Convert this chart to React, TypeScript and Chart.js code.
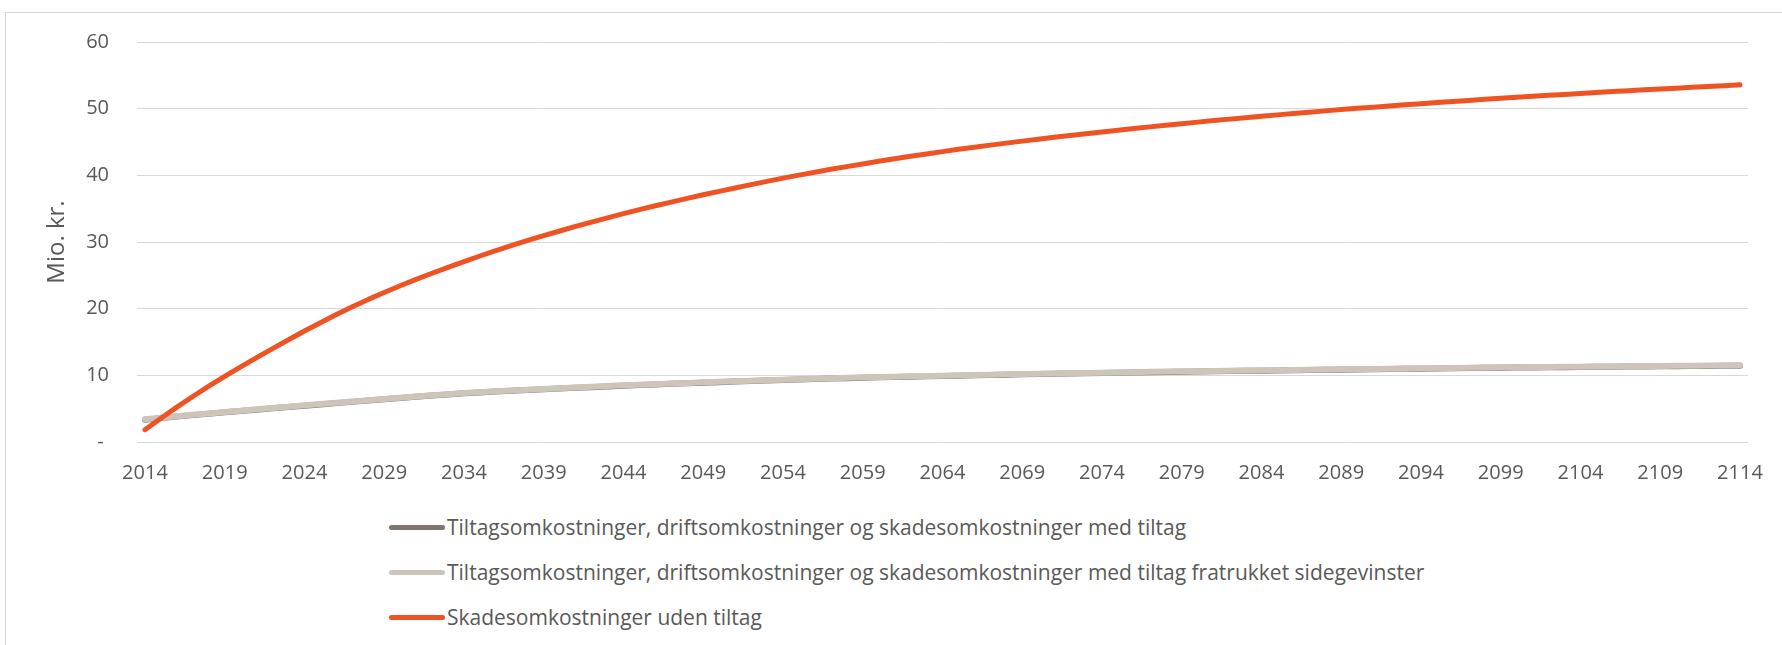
import React, { useEffect, useRef } from 'react';
import { Chart, registerables } from 'chart.js';

Chart.register(...registerables);

const years: string[] = Array.from({ length: 101 }, (_, i) => String(2014 + i));

const xTickLabels: string[] = [
  '2014', '2019', '2024', '2029', '2034', '2039', '2044', '2049', '2054', '2059', '2064',
  '2069', '2074', '2079', '2084', '2089', '2094', '2099', '2104', '2109', '2114',
];

const seriesNames: string[] = [
  'Tiltagsomkostninger, driftsomkostninger og skadesomkostninger med tiltag',
  'Tiltagsomkostninger, driftsomkostninger og skadesomkostninger med tiltag fratrukket sidegevinster',
  'Skadesomkostninger uden tiltag',
];

const seriesColors: string[] = ['#7f766e', '#cec5ba', '#f05323'];

const medTiltag: number[] = [
  3.35, 3.58, 3.81, 4.03, 4.24, 4.45, 4.65, 4.85, 5.05, 5.25,
  5.45, 5.64, 5.83, 6.02, 6.21, 6.40, 6.59, 6.78, 6.96, 7.13,
  7.30, 7.43, 7.56, 7.68, 7.79, 7.90, 8.01, 8.12, 8.23, 8.34,
  8.45, 8.54, 8.63, 8.72, 8.81, 8.90, 8.98, 9.06, 9.14, 9.22,
  9.30, 9.37, 9.44, 9.51, 9.58, 9.65, 9.70, 9.75, 9.80, 9.85,
  9.90, 9.95, 10.00, 10.05, 10.10, 10.15, 10.19, 10.23, 10.27, 10.31,
  10.35, 10.39, 10.43, 10.47, 10.51, 10.55, 10.58, 10.61, 10.64, 10.67,
  10.70, 10.73, 10.76, 10.79, 10.82, 10.85, 10.88, 10.91, 10.94, 10.97,
  11.00, 11.03, 11.06, 11.09, 11.12, 11.15, 11.17, 11.19, 11.21, 11.23,
  11.25, 11.27, 11.29, 11.31, 11.33, 11.35, 11.37, 11.39, 11.41, 11.43,
  11.45,
];

const fratrukket: number[] = [
  3.40, 3.63, 3.86, 4.08, 4.29, 4.50, 4.70, 4.90, 5.10, 5.30,
  5.50, 5.69, 5.88, 6.07, 6.26, 6.45, 6.64, 6.83, 7.01, 7.18,
  7.35, 7.48, 7.61, 7.73, 7.84, 7.95, 8.06, 8.17, 8.28, 8.39,
  8.50, 8.59, 8.68, 8.77, 8.86, 8.95, 9.03, 9.11, 9.19, 9.27,
  9.35, 9.42, 9.49, 9.56, 9.63, 9.70, 9.75, 9.80, 9.85, 9.90,
  9.95, 10.00, 10.05, 10.10, 10.15, 10.20, 10.24, 10.28, 10.32, 10.36,
  10.40, 10.44, 10.48, 10.52, 10.56, 10.60, 10.63, 10.66, 10.69, 10.72,
  10.75, 10.78, 10.81, 10.84, 10.87, 10.90, 10.93, 10.96, 10.99, 11.02,
  11.05, 11.08, 11.11, 11.14, 11.17, 11.20, 11.22, 11.24, 11.26, 11.28,
  11.30, 11.32, 11.34, 11.36, 11.38, 11.40, 11.42, 11.44, 11.46, 11.48,
  11.50,
];

const udenTiltag: number[] = [
  1.85, 3.57, 5.23, 6.83, 8.37, 9.85, 11.28, 12.66, 14.00, 15.34,
  16.64, 17.90, 19.11, 20.28, 21.39, 22.43, 23.43, 24.39, 25.31, 26.20,
  27.06, 27.90, 28.71, 29.49, 30.23, 30.95, 31.65, 32.33, 32.99, 33.63,
  34.25, 34.85, 35.43, 35.99, 36.55, 37.08, 37.60, 38.11, 38.61, 39.10,
  39.58, 40.03, 40.47, 40.90, 41.31, 41.71, 42.10, 42.48, 42.85, 43.21,
  43.56, 43.90, 44.22, 44.53, 44.83, 45.13, 45.42, 45.70, 45.98, 46.25,
  46.51, 46.77, 47.02, 47.27, 47.51, 47.75, 47.98, 48.21, 48.43, 48.65,
  48.86, 49.07, 49.27, 49.47, 49.67, 49.86, 50.05, 50.23, 50.41, 50.58,
  50.75, 50.92, 51.08, 51.24, 51.40, 51.55, 51.70, 51.85, 52.00, 52.14,
  52.28, 52.42, 52.56, 52.69, 52.82, 52.95, 53.08, 53.21, 53.33, 53.45,
  53.58,
];

const seriesValues: number[][] = [medTiltag, fratrukket, udenTiltag];
const seriesWidths: number[] = [6, 6, 5];
const seriesOrder: number[] = [2, 1, 0];

const yTitle = 'Mio. kr.';
const textColor = '#595959';
const gridColor = '#d9d9d9';
const FONT = "'Open Sans', sans-serif";

export default function App() {
  const canvasRef = useRef<HTMLCanvasElement | null>(null);

  useEffect(() => {
    const canvas = canvasRef.current;
    if (!canvas) return;
    const chart = new Chart(canvas, {
      type: 'line',
      data: {
        labels: years,
        datasets: seriesNames.map((name, i) => ({
          label: name,
          data: seriesValues[i],
          borderColor: seriesColors[i],
          backgroundColor: seriesColors[i],
          borderWidth: seriesWidths[i],
          borderCapStyle: 'round' as const,
          borderJoinStyle: 'round' as const,
          pointRadius: 0,
          pointHoverRadius: 0,
          tension: 0,
          fill: false,
          order: seriesOrder[i],
        })),
      },
      options: {
        animation: false,
        responsive: false,
        devicePixelRatio: 1,
        layout: { padding: { top: 42, right: 29, bottom: 0, left: 0 } },
        plugins: {
          legend: { display: false },
          tooltip: { enabled: false },
          title: { display: false },
        },
        scales: {
          x: {
            type: 'category',
            offset: true,
            grid: { display: false, drawTicks: false },
            border: { display: false },
            ticks: {
              autoSkip: false,
              maxRotation: 0,
              minRotation: 0,
              padding: 19,
              color: textColor,
              font: { family: FONT, size: 20 },
              callback: function (this: any, value: any) {
                const lab = this.getLabelForValue(value);
                return xTickLabels.includes(lab) ? lab : '';
              },
            },
            afterFit: (scale: any) => {
              scale.height = 58;
            },
          },
          y: {
            min: 0,
            max: 60,
            grid: { color: gridColor, lineWidth: 1, drawTicks: false },
            border: { display: false },
            ticks: {
              stepSize: 10,
              padding: 28,
              color: textColor,
              font: { family: FONT, size: 20 },
              callback: (value: any) => (Number(value) === 0 ? '- ' : String(value)),
            },
            title: {
              display: true,
              text: yTitle,
              color: textColor,
              font: { family: FONT, size: 24, weight: 'normal' },
              padding: { top: 42.6, bottom: 0 },
            },
            afterFit: (scale: any) => {
              scale.width = 137;
            },
          },
        },
      },
    });
    return () => chart.destroy();
  }, []);

  const legendCenters = [527, 572, 617];

  return (
    <div>
      <div
        style={{
          position: 'absolute',
          left: 5,
          top: 12,
          width: 1777,
          height: 633,
          boxSizing: 'border-box',
          borderTop: '1px solid #d6d6d6',
          borderLeft: '1px solid #d6d6d6',
          background: '#ffffff',
        }}
      />
      <canvas
        ref={canvasRef}
        width={1782}
        height={500}
        style={{ position: 'absolute', left: 0, top: 0, width: 1782, height: 500 }}
      />
      {seriesNames.map((name, i) => (
        <div
          key={name}
          style={{
            position: 'absolute',
            left: 389,
            top: legendCenters[i] - 15,
            height: 30,
            display: 'flex',
            alignItems: 'center',
            whiteSpace: 'nowrap',
            fontFamily: FONT,
            fontSize: 21,
            color: textColor,
          }}
        >
          <span
            style={{
              display: 'inline-block',
              width: 56,
              height: 5,
              borderRadius: 3,
              background: seriesColors[i],
              marginRight: 2,
            }}
          />
          <span>{name}</span>
        </div>
      ))}
    </div>
  );
}
